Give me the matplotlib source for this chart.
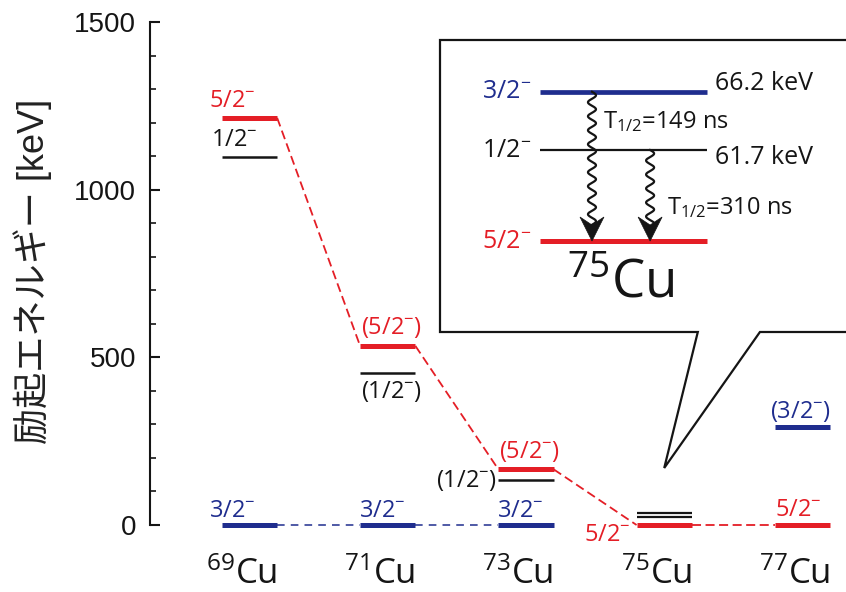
import numpy as np
import matplotlib
matplotlib.use("Agg")
import matplotlib.pyplot as plt
from matplotlib.ticker import MultipleLocator, FixedLocator
from matplotlib.patches import Polygon

plt.rcParams['font.family'] = ['Open Sans', 'DejaVu Sans']
plt.rcParams['mathtext.fontset'] = 'custom'
plt.rcParams['mathtext.rm'] = 'Open Sans'
plt.rcParams['mathtext.it'] = 'Open Sans:italic'
plt.rcParams['mathtext.bf'] = 'Open Sans:bold'
plt.rcParams['mathtext.default'] = 'rm'

RED = '#e41e26'
BLUE = '#1f2d8e'
BLACK = '#151515'

# ---- level data (keV) ----
mass_numbers = ['69', '71', '73', '75', '77']
e_5half = [1214, 534, 166, 0, 0]          # 5/2- levels (red)
e_3half = [0, 0, 0, None, 293]            # 3/2- levels (blue)
e_1half = [1096, 454, 135, None, None]    # 1/2- levels (black)
cu75_close_pair = [23, 37]                # 1/2-, 3/2- doublet of 75Cu near ground
spin_5half = ['5/2$^{-}$', '(5/2$^{-}$)', '(5/2$^{-}$)', '5/2$^{-}$', '5/2$^{-}$']
spin_3half = ['3/2$^{-}$', '3/2$^{-}$', '3/2$^{-}$', None, '(3/2$^{-}$)']
spin_1half = ['1/2$^{-}$', '(1/2$^{-}$)', '(1/2$^{-}$)', None, None]

# 75Cu isomer detail
inset_energies = [0.0, 61.7, 66.2]
inset_spins = ['5/2$^{-}$', '1/2$^{-}$', '3/2$^{-}$']
half_lives = ['149 ns', '310 ns']

W, H = 846, 592
PT = 72 / 100          # pixels -> points
HW = 0.2               # half width of a level bar

fig = plt.figure(figsize=(W / 100, H / 100), dpi=100)
ax = fig.add_axes([150 / W, 67 / H, 696 / W, 503 / H])
ax.set_xlim(-0.72, 4.315)
ax.set_ylim(0, 1500)

for s in ['top', 'right', 'bottom']:
    ax.spines[s].set_visible(False)
ax.spines['left'].set_linewidth(1.5)
ax.spines['left'].set_color(BLACK)
ax.xaxis.set_visible(False)
ax.yaxis.set_major_locator(FixedLocator([0, 500, 1000, 1500]))
ax.yaxis.set_minor_locator(MultipleLocator(100))
ax.tick_params(axis='y', which='major', direction='in', length=7.5, width=1.5,
               labelsize=20, pad=10, labelfontfamily='Liberation Sans', colors=BLACK)
ax.tick_params(axis='y', which='minor', direction='in', length=4.5, width=1.2, colors=BLACK)

fig.text(33 / W, 1 - 271 / H, '励起エネルギー [keV]', rotation=90, ha='center',
         va='center', fontsize=26, color='#222222',
         family=['Liberation Sans', 'Noto Sans CJK JP'])

xs = np.arange(len(mass_numbers))


def level(a, x, e, color, lw):
    a.plot([x - HW, x + HW], [e, e], color=color, lw=lw, solid_capstyle='butt',
           zorder=3, clip_on=False)


def label(a, x, y, s, color, ha, dx, dy, size=17):
    a.annotate(s, (x, y), xytext=(dx * PT, dy * PT), textcoords='offset points',
               ha=ha, va='center', color=color, fontsize=size,
               annotation_clip=False)


# connecting dashed lines
for i in range(len(xs) - 1):
    ax.plot([xs[i] + HW, xs[i + 1] - HW], [e_5half[i], e_5half[i + 1]],
            color=RED, lw=1.3, ls=(0, (5, 2.5)), zorder=2, clip_on=False)
    if e_3half[i] is not None and e_3half[i + 1] is not None:
        ax.plot([xs[i] + HW, xs[i + 1] - HW], [e_3half[i], e_3half[i + 1]],
                color=BLUE, lw=1.1, ls=(0, (5, 4)), zorder=2, clip_on=False)

# level bars
for i, x in enumerate(xs):
    level(ax, x, e_5half[i], RED, 3.6)
    if e_3half[i] is not None:
        level(ax, x, e_3half[i], BLUE, 3.6)
    if e_1half[i] is not None:
        level(ax, x, e_1half[i], BLACK, 1.8)
for e in cu75_close_pair:
    level(ax, xs[3], e, BLACK, 1.6)

# spin labels: (anchor side, ha, dx px, dy px)
pos_5 = [('l', 'left', -13, 17), ('c', 'center', 4, 18), ('l', 'left', 1, 18),
         ('l', 'right', -6, -10), ('l', 'left', 0, 15)]
pos_3 = [('l', 'left', -13, 14), ('l', 'left', -1, 14), ('l', 'left', -1, 14),
         None, ('c', 'center', -2, 15)]
pos_1 = [('l', 'left', -11, 17), ('c', 'center', 4, -19), ('l', 'right', -1, -1),
         None, None]


def anchor_x(x, side):
    return {'l': x - HW, 'c': x, 'r': x + HW}[side]


for i, x in enumerate(xs):
    side, ha, dx, dy = pos_5[i]
    label(ax, anchor_x(x, side), e_5half[i], spin_5half[i], RED, ha, dx, dy)
    if pos_3[i] is not None:
        side, ha, dx, dy = pos_3[i]
        label(ax, anchor_x(x, side), e_3half[i], spin_3half[i], BLUE, ha, dx, dy)
    if pos_1[i] is not None:
        side, ha, dx, dy = pos_1[i]
        label(ax, anchor_x(x, side), e_1half[i], spin_1half[i], BLACK, ha, dx, dy)

# isotope names
for i, x in enumerate(xs):
    label(ax, x + HW, 0, r'$^{%s}$Cu' % mass_numbers[i], BLACK, 'right', 0, -50, size=25)

# ---- 75Cu isomer scheme ----
ax_in = fig.add_axes([440 / W, 1 - 332 / H, 406 / W, 292 / H])
ax_in.set_xlim(-0.599, 1.832)
ax_in.set_ylim(-1.0, 2.209)
ax_in.axis('off')
inset_rows = [0.0, 1.0, 1.64]     # schematic drawing rows of the three levels
px_x = 1 / 167                    # inset data units per pixel
px_y = 1 / 91

# callout frame pointing at the 75Cu levels
tip_disp = ax.transData.transform((xs[3], 170))
tip = ax_in.transAxes.inverted().transform(tip_disp)
frame = Polygon([(0, 0), (0, 1), (1.05, 1), (1.05, 0), (0.788, 0), tuple(tip),
                 (0.635, 0)], closed=True, transform=ax_in.transAxes,
                facecolor='white', edgecolor=BLACK, lw=1.6, joinstyle='miter',
                clip_on=False, zorder=1)
ax_in.add_patch(frame)

inset_colors = [RED, BLACK, BLUE]
inset_lw = [3.6, 1.6, 3.4]
for r, c, lw, sp in zip(inset_rows, inset_colors, inset_lw, inset_spins):
    ax_in.plot([0, 1], [r, r], color=c, lw=lw, solid_capstyle='butt', zorder=3)
    label(ax_in, 0, r, sp, c, 'right', -9, 0, size=18)

label(ax_in, 1, inset_rows[2], '%.1f keV' % inset_energies[2], BLACK, 'left', 8, 8, size=18)
label(ax_in, 1, inset_rows[1], '%.1f keV' % inset_energies[1], BLACK, 'left', 8, -7, size=18)


def wavy_arrow(a, x, y_top, y_tip):
    head_len = 24 * px_y
    head_hw = 12 * px_x
    notch = 16 * px_y
    y = np.linspace(y_top, y_tip + notch, 300)
    amp = 4.0 * px_x
    wl = 14 * px_y
    xw = x + amp * np.sin(2 * np.pi * (y_top - y) / wl)
    a.plot(xw, y, color=BLACK, lw=1.6, zorder=4)
    head = Polygon([(x, y_tip), (x - head_hw, y_tip + head_len), (x, y_tip + notch),
                    (x + head_hw, y_tip + head_len)], closed=True,
                   facecolor=BLACK, edgecolor=BLACK, lw=0.5, zorder=5)
    a.add_patch(head)


arrow_x = [0.311, 0.659]
wavy_arrow(ax_in, arrow_x[0], inset_rows[2], inset_rows[0])
wavy_arrow(ax_in, arrow_x[1], inset_rows[1], inset_rows[0])

label(ax_in, arrow_x[0], 1.308, r'T$_{1/2}$=' + half_lives[0], BLACK, 'left', 11, 0, size=17)
label(ax_in, arrow_x[1], 0.363, r'T$_{1/2}$=' + half_lives[1], BLACK, 'left', 17, 0, size=17)
label(ax_in, 0.5, inset_rows[0], r'$^{75}$Cu', BLACK, 'center', -3, -43, size=38)

fig.savefig('out.png', dpi=100)
